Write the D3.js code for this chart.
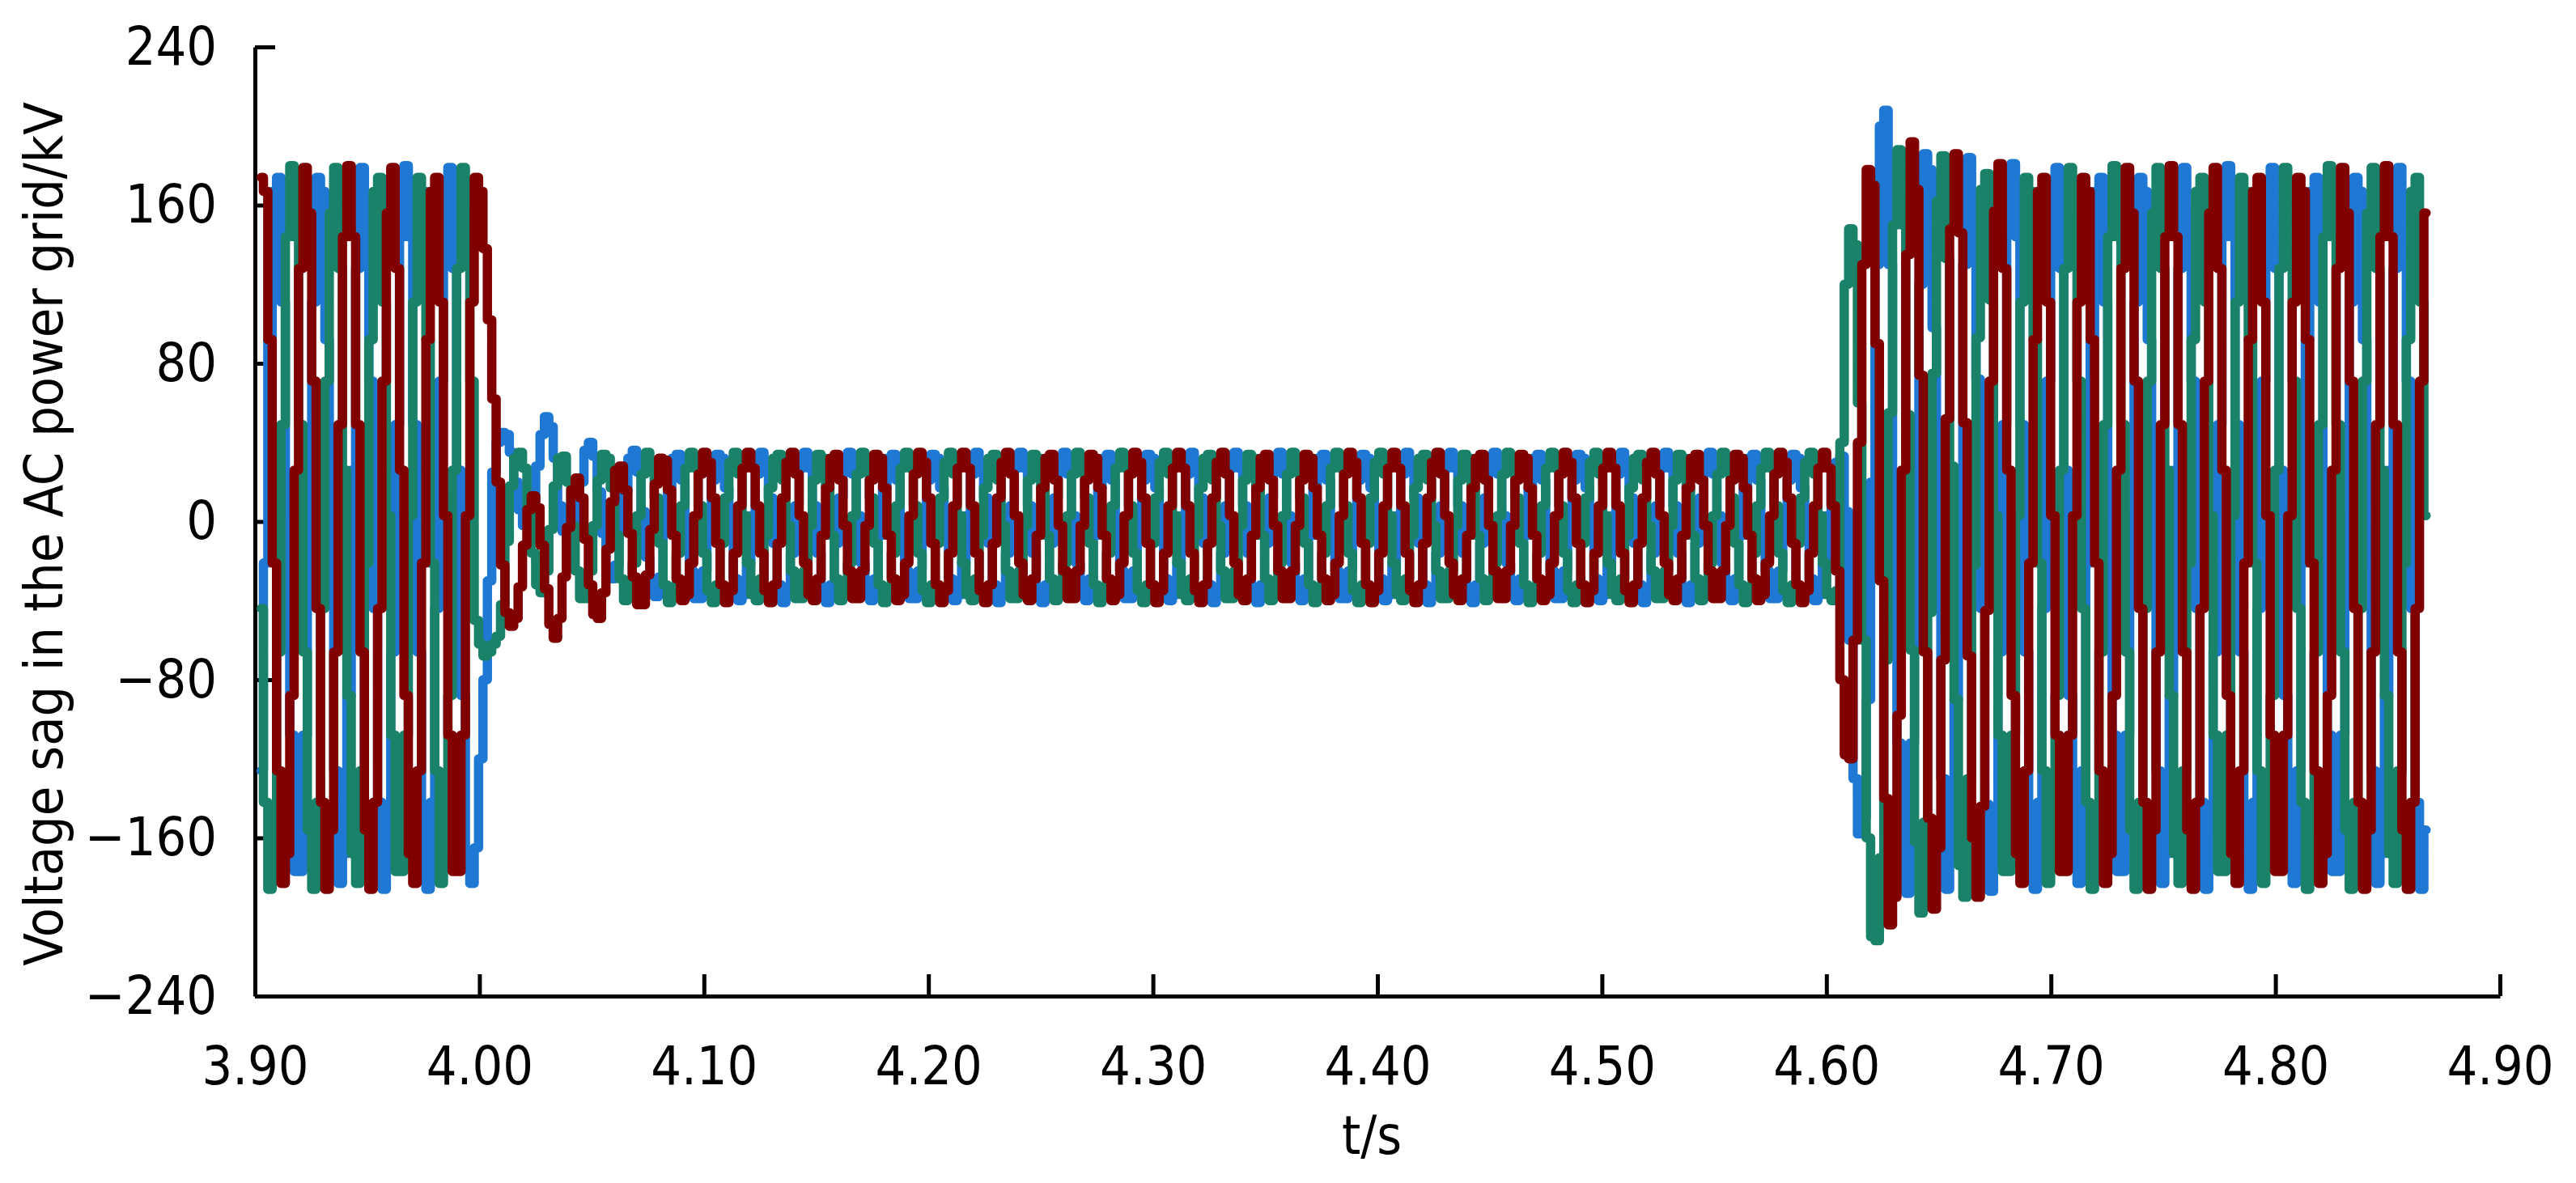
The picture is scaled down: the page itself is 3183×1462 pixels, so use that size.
<!DOCTYPE html>
<html>
<head>
<meta charset="utf-8">
<script src="https://cdn.jsdelivr.net/npm/d3@7"></script>
<style>
  html, body { margin: 0; padding: 0; background: #fff; }
  svg { display: block; }
  .tick text, .axisText {
    font-family: "DejaVu Sans Condensed", "DejaVu Sans", sans-serif;
    font-stretch: condensed;
    fill: #000;
  }
</style>
</head>
<body>
<div id="chart"></div>
<script>
// sampling grid of the recorded waveforms (seconds)
var sampleStart = 3.9028;
var sampleStep = 0.001956;

var xTicks = [3.9, 4.0, 4.1, 4.2, 4.3, 4.4, 4.5, 4.6, 4.7, 4.8, 4.9];
var yTicks = [-240, -160, -80, 0, 80, 160, 240];

// ---- phase C (dark red), kV ----
var redPreFault = [
  174, 167, 92, -21, -126, -183, -168, -88, 26, 128,
  179, 156, 71, -44, -142, -186, -156, -66, 49, 144,
  180, 144, 49, -66, -156, -186, -142, -44, 71, 156,
  179, 128, 26, -88, -168, -183, -126, -21, 92, 167,
  174, 111, 3, -108, -177, -177, -108, 3, 111, 174,
  167
];
var redFaultDip = [
  138, 102, 62, 20, -22, -46, -53, -49, -33, -12,
  6, 13, 7, -12, -34, -52, -59, -49, -28, -3,
  16, 22, 12, -9, -32, -47, -49, -36, -14, 10,
  26, 28, 16, -6, -28, -42, -42, -27, -4, 19,
  32, 31, 16, -7, -29, -40, -37, -21
];
var redSag = [
  3, 24, 35, 30, 12, -11, -32, -41, -35, -16, 8, 27,
  35, 27, 8, -16, -35, -41, -32, -11, 12, 30,
  35, 24, 3, -21, -37, -40, -29, -7, 17, 32,
  34, 21, -2, -25, -39, -39, -25, -2, 21, 34,
  32, 17, -7, -29, -40, -37, -21, 3, 24, 35,
  30, 12, -11, -32, -41, -35, -16, 8, 27,
  35, 27, 8, -16, -35, -41, -32, -11, 12, 30,
  35, 24, 3, -21, -37, -40, -29, -7, 17, 32,
  34, 21, -2, -25, -39, -39, -25, -2, 21, 34,
  32, 17, -7, -29, -40, -37, -21, 3, 24, 35,
  30, 12, -11, -32, -41, -35, -16, 8, 27,
  35, 27, 8, -16, -35, -41, -32, -11, 12, 30,
  35, 24, 3, -21, -37, -40, -29, -7, 17, 32,
  34, 21, -2, -25, -39, -39, -25, -2, 21, 34,
  32, 17, -7, -29, -40, -37, -21, 3, 24, 35,
  30, 12, -11, -32, -41, -35, -16, 8, 27,
  35, 27, 8, -16, -35, -41, -32, -11, 12, 30,
  35, 24, 3, -21, -37, -40, -29, -7, 17, 32,
  34, 21, -2, -25, -39, -39, -25, -2, 21, 34,
  32, 17, -7, -29, -40, -37, -21, 3, 24, 35,
  30, 12, -11, -32, -41, -35, -16, 8, 27,
  35, 27, 8, -16, -35, -41, -32, -11, 12, 30,
  35, 24, 3, -21, -37, -40, -29, -7, 17, 32,
  34, 21, -2, -25, -39, -39, -25, -2, 21, 34,
  32, 17, -7, -29, -40, -37, -21, 3, 24, 35,
  30, 12, -11, -32, -41, -35, -16, 8, 27,
  35, 27, 8
];
var redRecovery = [
  -25, -80, -118, -120, -60, 40, 130, 178, 170, 90,
  -30, -140, -204, -190, -98, 26, 135, 192, 168, 74,
  -66, -150, -196, -165, -70, 52, 148, 186, 146, 50,
  -68, -160, -190, -144, -45, 71, 157, 181, 128, 26, -88
];
var redRestored = [
  -168, -183, -126, -21, 92, 167,
  174, 111, 3, -108, -177, -177, -108, 3, 111, 174,
  167, 92, -21, -126, -183, -168, -88, 26, 128, 179,
  156, 71, -44, -142, -186, -156, -66, 49, 144,
  180, 144, 49, -66, -156, -186, -142, -44, 71, 156,
  179, 128, 26, -88, -168, -183, -126, -21, 92, 167,
  174, 111, 3, -108, -177, -177, -108, 3, 111, 174,
  167, 92, -21, -126, -183, -168, -88, 26, 128, 179,
  156, 71, -44, -142, -186, -156, -66, 49, 144,
  180, 144, 49, -66, -156, -186, -142, -44, 71, 156
];

// ---- phase A (blue), kV ----
var bluePreFault = [
  -126, -21, 92, 167,
  174, 111, 3, -108, -177, -177, -108, 3, 111, 174,
  167, 92, -21, -126, -183, -168, -88, 26, 128, 179,
  156, 71, -44, -142, -186, -156, -66, 49, 144,
  180, 144, 49, -66, -156, -186, -142, -44, 71, 156,
  179, 128, 26, -88, -168, -183
];
var blueFaultDip = [
  -165, -120, -80, -30, 25, 40, 45, 44, 35, 20,
  6, -2, 0, 10, 28, 44, 53, 48, 32, 8,
  -5, -13, -10, 2, 20, 36, 40, 33, 15, -6,
  -23, -29, -22, -5, 15, 32, 36, 25, 5, -18,
  -35, -38, -28, -6, 17, 32, 34, 21, -2, -25
];
var blueSag = [
  -39, -39, -25, -2, 21, 34,
  32, 17, -7, -29, -40, -37, -21, 3, 24, 35,
  30, 12, -11, -32, -41, -35, -16, 8, 27,
  35, 27, 8, -16, -35, -41, -32, -11, 12, 30,
  35, 24, 3, -21, -37, -40, -29, -7, 17, 32,
  34, 21, -2, -25, -39, -39, -25, -2, 21, 34,
  32, 17, -7, -29, -40, -37, -21, 3, 24, 35,
  30, 12, -11, -32, -41, -35, -16, 8, 27,
  35, 27, 8, -16, -35, -41, -32, -11, 12, 30,
  35, 24, 3, -21, -37, -40, -29, -7, 17, 32,
  34, 21, -2, -25, -39, -39, -25, -2, 21, 34,
  32, 17, -7, -29, -40, -37, -21, 3, 24, 35,
  30, 12, -11, -32, -41, -35, -16, 8, 27,
  35, 27, 8, -16, -35, -41, -32, -11, 12, 30,
  35, 24, 3, -21, -37, -40, -29, -7, 17, 32,
  34, 21, -2, -25, -39, -39, -25, -2, 21, 34,
  32, 17, -7, -29, -40, -37, -21, 3, 24, 35,
  30, 12, -11, -32, -41, -35, -16, 8, 27,
  35, 27, 8, -16, -35, -41, -32, -11, 12, 30,
  35, 24, 3, -21, -37, -40, -29, -7, 17, 32,
  34, 21, -2, -25, -39, -39, -25, -2, 21, 34,
  32, 17, -7, -29, -40, -37, -21, 3, 24, 35,
  30, 12, -11, -32, -41, -35, -16, 8, 27,
  35, 27, 8, -16, -35, -41, -32, -11, 12, 30,
  35, 24, 3, -21, -37, -40, -29, -7, 17, 32,
  34, 21, -2, -25, -39, -39, -25, -2, 21, 34,
  32, 17, -7, -29, -40, -37, -21, 3, 24
];
var blueRecovery = [
  30, 33, 5, -60, -130, -158, -150, -90, 20, 130,
  200, 208, 130, 5, -112, -186, -188, -112, 5, 120,
  186, 178, 98, -22, -130, -186, -172, -90, 26, 130,
  184, 158, 72, -44, -143, -187, -157, -66, 49, 145, 181
];
var blueRestored = [
  144, 49, -66, -156, -186, -142, -44, 71, 156,
  179, 128, 26, -88, -168, -183, -126, -21, 92, 167,
  174, 111, 3, -108, -177, -177, -108, 3, 111, 174,
  167, 92, -21, -126, -183, -168, -88, 26, 128, 179,
  156, 71, -44, -142, -186, -156, -66, 49, 144,
  180, 144, 49, -66, -156, -186, -142, -44, 71, 156,
  179, 128, 26, -88, -168, -183, -126, -21, 92, 167,
  174, 111, 3, -108, -177, -177, -108, 3, 111, 174,
  167, 92, -21, -126, -183, -168, -88, 26, 128, 179,
  156, 71, -44, -142, -186, -156
];

// ---- phase B (green), kV ----
var greenPreFault = [
  -44, -142, -186, -156, -66, 49, 144,
  180, 144, 49, -66, -156, -186, -142, -44, 71, 156,
  179, 128, 26, -88, -168, -183, -126, -21, 92, 167,
  174, 111, 3, -108, -177, -177, -108, 3, 111, 174,
  167, 92, -21, -126, -183, -168, -88, 26, 128, 179,
  156, 71
];
var greenFaultDip = [
  -50, -62, -68, -66, -62, -58, -42, -10, 18, 32,
  35, 27, 7, -16, -32, -36, -25, -4, 18, 32,
  33, 20
];
var greenSag = [
  -2, -25, -39, -39, -25, -2, 21, 34,
  32, 17, -7, -29, -40, -37, -21, 3, 24, 35,
  30, 12, -11, -32, -41, -35, -16, 8, 27,
  35, 27, 8, -16, -35, -41, -32, -11, 12, 30,
  35, 24, 3, -21, -37, -40, -29, -7, 17, 32,
  34, 21, -2, -25, -39, -39, -25, -2, 21, 34,
  32, 17, -7, -29, -40, -37, -21, 3, 24, 35,
  30, 12, -11, -32, -41, -35, -16, 8, 27,
  35, 27, 8, -16, -35, -41, -32, -11, 12, 30,
  35, 24, 3, -21, -37, -40, -29, -7, 17, 32,
  34, 21, -2, -25, -39, -39, -25, -2, 21, 34,
  32, 17, -7, -29, -40, -37, -21, 3, 24, 35,
  30, 12, -11, -32, -41, -35, -16, 8, 27,
  35, 27, 8, -16, -35, -41, -32, -11, 12, 30,
  35, 24, 3, -21, -37, -40, -29, -7, 17, 32,
  34, 21, -2, -25, -39, -39, -25, -2, 21, 34,
  32, 17, -7, -29, -40, -37, -21, 3, 24, 35,
  30, 12, -11, -32, -41, -35, -16, 8, 27,
  35, 27, 8, -16, -35, -41, -32, -11, 12, 30,
  35, 24, 3, -21, -37, -40, -29, -7, 17, 32,
  34, 21, -2, -25, -39, -39, -25, -2, 21, 34,
  32, 17, -7, -29, -40, -37, -21, 3, 24, 35,
  30, 12, -11, -32, -41, -35, -16, 8, 27,
  35, 27, 8, -16, -35, -41, -32, -11, 12, 30,
  35, 24, 3, -21, -37, -40, -29, -7, 17, 32,
  34, 21, -2, -25, -39, -39, -25, -2, 21, 34,
  32, 17, -7, -29, -40, -37, -21, 3, 24, 35,
  30, 12, -11, -32, -41, -35, -16, 8, 27,
  35, 27, 8, -16, -35, -41, -32, -11, 12, 30,
  35, 24, 3, -21, -37, -40
];
var greenRecovery = [
  -35, 40, 120, 148, 140, 60, -60, -160, -210, -212,
  -170, -70, 55, 150, 188, 150, 54, -65, -162, -198,
  -152, -46, 75, 162, 185, 133, 28, -90, -174, -190,
  -130, -22, 93, 168, 176, 112, 3, -108, -177, -177, -108
];
var greenRestored = [
  3, 111, 174,
  167, 92, -21, -126, -183, -168, -88, 26, 128, 179,
  156, 71, -44, -142, -186, -156, -66, 49, 144,
  180, 144, 49, -66, -156, -186, -142, -44, 71, 156,
  179, 128, 26, -88, -168, -183, -126, -21, 92, 167,
  174, 111, 3, -108, -177, -177, -108, 3, 111, 174,
  167, 92, -21, -126, -183, -168, -88, 26, 128, 179,
  156, 71, -44, -142, -186, -156, -66, 49, 144,
  180, 144, 49, -66, -156, -186, -142, -44, 71, 156,
  179, 128, 26, -88, -168, -183, -126, -21, 92, 167,
  174, 111, 3
];

var blueVoltage = [].concat(bluePreFault, blueFaultDip, blueSag, blueRecovery, blueRestored);
var greenVoltage = [].concat(greenPreFault, greenFaultDip, greenSag, greenRecovery, greenRestored);
var redVoltage = [].concat(redPreFault, redFaultDip, redSag, redRecovery, redRestored);

var svgWidth = 3183;
var svgHeight = 1462;

var margin = {
  top: 58,
  right: 94,
  bottom: 231,
  left: 315
};

var width = svgWidth - margin.left - margin.right;
var height = svgHeight - margin.top - margin.bottom;

var svg = d3.select("#chart")
  .append("svg")
  .attr("width", svgWidth)
  .attr("height", svgHeight)
  .style("background", "#fff");

var chartGroup = svg.append("g")
  .attr("transform", `translate(${margin.left}, ${margin.top})`);

// scales
var xLinearScale = d3.scaleLinear()
  .domain([3.9, 4.9])
  .range([0, width]);

var yLinearScale = d3.scaleLinear()
  .domain([-240, 240])
  .range([height, 0]);

// axes, ticks pointing inward
var bottomAxis = d3.axisBottom(xLinearScale)
  .tickValues(xTicks)
  .tickFormat(d3.format(".2f"))
  .tickSizeInner(-27)
  .tickSizeOuter(0)
  .tickPadding(62);

var leftAxis = d3.axisLeft(yLinearScale)
  .tickValues(yTicks)
  .tickFormat(d3.format("d"))
  .tickSizeInner(-25)
  .tickSizeOuter(0)
  .tickPadding(47);

var xAxisGroup = chartGroup.append("g")
  .attr("transform", `translate(0, ${height})`)
  .call(bottomAxis);

var yAxisGroup = chartGroup.append("g")
  .call(leftAxis);

[xAxisGroup, yAxisGroup].forEach(function(g) {
  g.attr("font-family", null).attr("font-size", null);
  g.select(".domain").attr("stroke", "#000").attr("stroke-width", 5);
  g.selectAll(".tick line").attr("stroke", "#000").attr("stroke-width", 5);
  g.selectAll(".tick text").style("font-size", "66px");
});

// waveforms drawn as held samples: blue first, then green, red on top
var voltageLine = d3.line()
  .curve(d3.curveStep)
  .x(function(d, i) { return xLinearScale(sampleStart + i * sampleStep); })
  .y(function(d) { return yLinearScale(d); });

var series = [
  { values: blueVoltage, color: "#1e78d4" },
  { values: greenVoltage, color: "#1a8269" },
  { values: redVoltage, color: "#800000" }
];

chartGroup.selectAll(".wave")
  .data(series)
  .enter()
  .append("path")
  .attr("class", "wave")
  .attr("d", function(s) { return voltageLine(s.values); })
  .attr("fill", "none")
  .attr("stroke", function(s) { return s.color; })
  .attr("stroke-width", 11.5)
  .attr("stroke-linejoin", "round")
  .attr("stroke-linecap", "round");

// axis labels
svg.append("text")
  .attr("class", "axisText")
  .attr("transform", "translate(77, 660) rotate(-90)")
  .attr("text-anchor", "middle")
  .style("font-size", "66px")
  .text("Voltage sag in the AC power grid/kV");

svg.append("text")
  .attr("class", "axisText")
  .attr("x", 1695)
  .attr("y", 1426)
  .attr("text-anchor", "middle")
  .style("font-size", "66px")
  .text("t/s");
</script>
</body>
</html>
